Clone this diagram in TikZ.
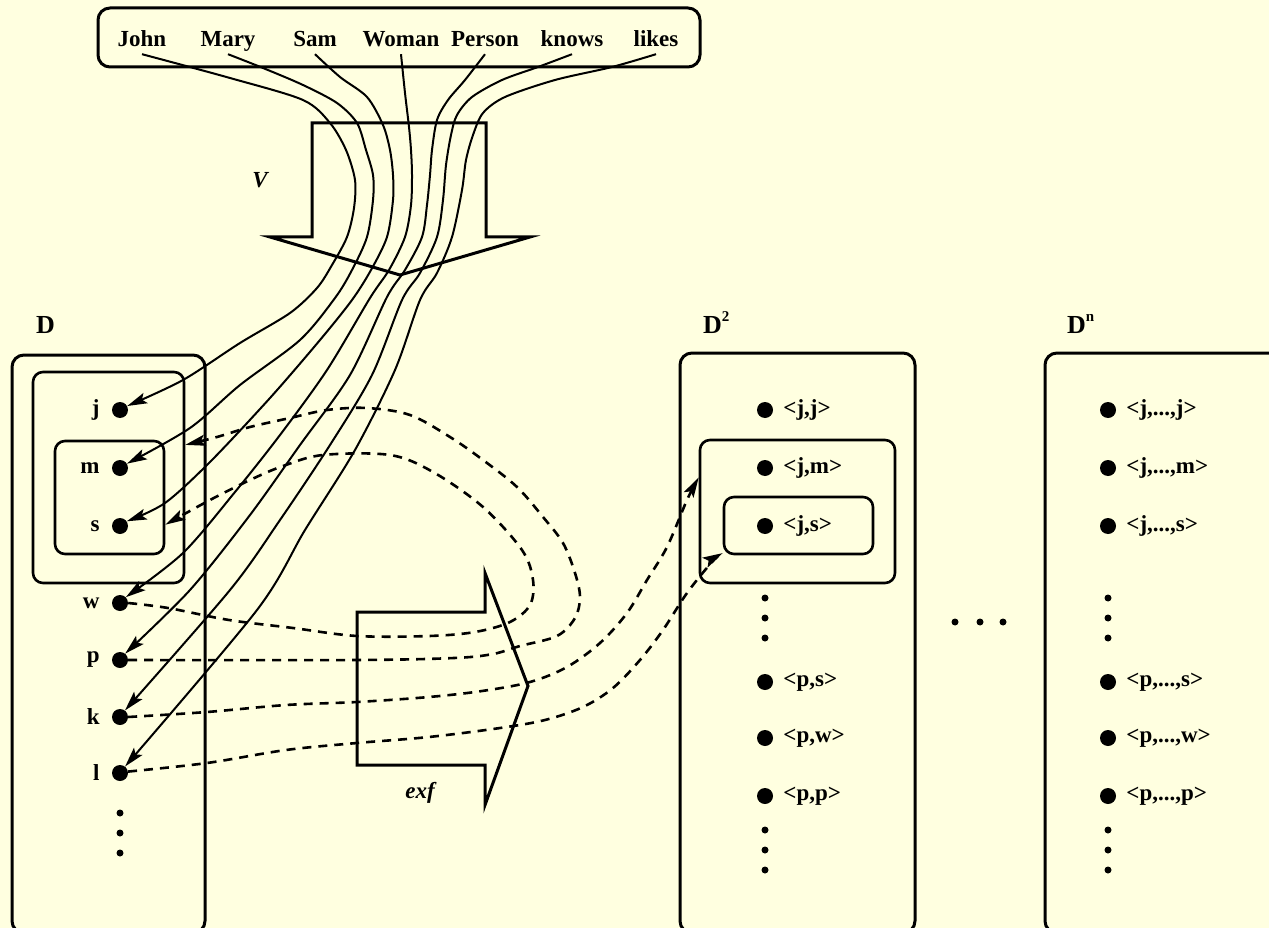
\documentclass[tikz,border=0pt]{standalone}
\usepackage{fontspec}
\setmainfont{Liberation Serif}
\usetikzlibrary{positioning,arrows.meta}

\definecolor{paper}{HTML}{FFFFE0}
\newcommand{\figfont}{\fontsize{23}{26}\selectfont\bfseries}
\newcommand{\domfont}{\fontsize{26}{28}\selectfont\bfseries}
\newcommand{\supfig}[1]{\raisebox{12pt}{\fontsize{15}{15}\selectfont #1}}

\begin{document}
\begin{tikzpicture}[
  x=1pt, y=-1pt,
  word/.style={font=\figfont, inner sep=0pt, text height=16pt, text depth=7pt, anchor=base},
  frame/.style={draw, line width=3pt, rounded corners=12pt, inner sep=0pt},
  subset/.style={draw, line width=2.6pt, rounded corners=10pt, inner sep=0pt},
  elem/.style={circle, fill, inner sep=0pt, minimum size=16pt},
  tiny/.style={circle, fill, inner sep=0pt, minimum size=7pt},
  lbl/.style={font=\figfont, inner sep=1pt},
  title/.style={font=\domfont, inner sep=0pt, anchor=base west},
  bigarrow/.style={line width=3pt, line join=miter},
  val/.style={line width=2pt, -{Stealth[length=20pt,width=11pt,inset=4pt]}},
  ext/.style={line width=2.6pt, dash pattern=on 9pt off 7pt, -{Stealth[length=20pt,width=11pt,inset=4pt]}},
]
\useasboundingbox (0,0) rectangle (1269,928);
\fill[paper] (0,0) rectangle (1269,928);
\clip (0,0) rectangle (1269,928);

% vocabulary
\node[frame, minimum width=602pt, minimum height=59pt] (vocab) at (399,37.5) {};
\node[word] (john) at (142,47) {John};
\node[word] (mary) at (228,47) {Mary};
\node[word] (sam) at (315,47) {Sam};
\node[word] (woman) at (401,47) {Woman};
\node[word] (person) at (485,47) {Person};
\node[word] (knows) at (572,47) {knows};
\node[word] (likes) at (656,47) {likes};

% the two big arrows
\draw[bigarrow] (312,123) -- (486,123) -- (486,237) -- (530,237) -- (400,275)
  -- (270,237) -- (312,237) -- cycle;
\node[font=\figfont\itshape] (vlabel) at (260,180) {V};
\draw[bigarrow] (357,612) -- (485,612) -- (485,573) -- (528,686) -- (485,805)
  -- (485,765) -- (357,765) -- cycle;
\node[font=\figfont\itshape] (exflabel) at (420,793) {exf};

% domain D
\node[title] (dlabel) at (36,333) {D};
\node[frame, minimum width=193pt, minimum height=578pt] (domD) at (108.5,644) {};
\node[subset, minimum width=151pt, minimum height=211pt] (setjms) at (108.5,477.5) {};
\node[subset, minimum width=109pt, minimum height=113pt] (setms) at (109.5,497.5) {};
\node[elem] (dj) at (120,410) {};
\node[elem] (dm) at (120,468) {};
\node[elem] (ds) at (120,526) {};
\node[elem] (dw) at (120,603) {};
\node[elem] (dp) at (120,660) {};
\node[elem] (dk) at (120,717) {};
\node[elem] (dl) at (120,773) {};
\node[lbl, left=11pt of dj] (lj) {j};
\node[lbl, left=11pt of dm] (lm) {m};
\node[lbl, left=11pt of ds] (ls) {s};
\node[lbl, left=11pt of dw] (lw) {w};
\node[lbl, left=11pt of dp] (lp) {p};
\node[lbl, left=11pt of dk] (lk) {k};
\node[lbl, left=11pt of dl] (ll) {l};
\foreach \y in {813,833,853}
  \node[tiny] (dv\y) at (120,\y) {};

% domain D^2
\node[title] (d2label) at (703,333) {D\supfig{2}};
\node[frame, minimum width=235pt, minimum height=580pt] (domDD) at (797.5,643) {};
\node[subset, minimum width=195pt, minimum height=143pt] (pairjm) at (797.5,511.5) {};
\node[subset, minimum width=149pt, minimum height=57pt] (pairjs) at (798.5,525.5) {};
\node[elem] (djj) at (765,410) {};
\node[elem] (djm) at (765,468) {};
\node[elem] (djs) at (765,526) {};
\node[elem] (dps) at (765,682) {};
\node[elem] (dpw) at (765,738) {};
\node[elem] (dpp) at (765,796) {};
\node[lbl, right=9pt of djj] {<j,j>};
\node[lbl, right=9pt of djm] {<j,m>};
\node[lbl, right=9pt of djs] {<j,s>};
\node[lbl, right=9pt of dps] {<p,s>};
\node[lbl, right=9pt of dpw] {<p,w>};
\node[lbl, right=9pt of dpp] {<p,p>};
\foreach \y in {598,618,638,830,850,870}
  \node[tiny] (ddv\y) at (765,\y) {};

% gap between D^2 and D^n
\foreach \x in {955,980,1003}
  \node[tiny] (gap\x) at (\x,622) {};

% domain D^n
\node[title] (dnlabel) at (1067,333) {D\supfig{n}};
\node[frame, minimum width=255pt, minimum height=580pt] (domDn) at (1172.5,643) {};
\node[elem] (njj) at (1108,410) {};
\node[elem] (njm) at (1108,468) {};
\node[elem] (njs) at (1108,526) {};
\node[elem] (nps) at (1108,682) {};
\node[elem] (npw) at (1108,738) {};
\node[elem] (npp) at (1108,796) {};
\node[lbl, right=9pt of njj] {<j,...,j>};
\node[lbl, right=9pt of njm] {<j,...,m>};
\node[lbl, right=9pt of njs] {<j,...,s>};
\node[lbl, right=9pt of nps] {<p,...,s>};
\node[lbl, right=9pt of npw] {<p,...,w>};
\node[lbl, right=9pt of npp] {<p,...,p>};
\foreach \y in {598,618,638,830,850,870}
  \node[tiny] (nv\y) at (1108,\y) {};

% valuation V: words to individuals
\draw[val] plot[smooth, tension=0.5] coordinates {(john.south) (230,78) (303,100) (330,123)
  (346,150) (355,180) (354,208) (347,237) (332,265) (317,288) (290,313) (240,343) (183,380) (dj.29)};
\draw[val] plot[smooth, tension=0.5] coordinates {(mary.south) (263,68) (303,85) (337,103)
  (357,123) (366,150) (373,175) (373,200) (367,237) (352,270) (335,298) (300,340) (240,385)
  (190,428) (dm.32)};
\draw[val] plot[smooth, tension=0.5] coordinates {(sam.south) (340,77) (367,97) (383,125)
  (390,150) (393,175) (393,200) (387,237) (371,270) (352,300) (320,340) (270,398) (210,462)
  (165,503) (ds.35)};
\draw[val] plot[smooth, tension=0.5] coordinates {(woman.south) (405,93) (409,127) (411,150)
  (412,175) (411,205) (405,237) (389,270) (370,298) (327,370) (280,435) (235,492) (183,553)
  (dw.45)};
\draw[val] plot[smooth, tension=0.5] coordinates {(person.south) (465,80) (448,100) (437,120)
  (432,150) (430,175) (427,205) (422,237) (405,270) (387,297) (350,375) (300,445) (250,515)
  (190,590) (dp.51)};
\draw[val] plot[smooth, tension=0.5] coordinates {(knows.south) (538,67) (502,80) (472,97)
  (457,115) (451,135) (446,165) (443,200) (437,237) (420,273) (402,300) (372,375) (330,445)
  (280,520) (230,590) (dk.53)};
\draw[val] plot[smooth, tension=0.5] coordinates {(likes.south) (612,67) (555,80) (505,97)
  (483,113) (473,135) (466,160) (462,190) (452,237) (437,273) (420,300) (395,370) (355,450)
  (305,530) (257,610) (dl.52)};

% extension exf: individuals to sets
\draw[ext] plot[smooth, tension=0.55] coordinates {(dw.east) (168,608) (229,620) (293,628)
  (357,636) (429,636) (475,632) (510,622) (530,605) (533,580) (522,550) (483,507) (433,472)
  (390,455) (323,455) (283,466) (250,480) (210,500) (setms.-26)};
\draw[ext] plot[smooth, tension=0.55] coordinates {(dp.east) (357,660) (454,658) (493,654)
  (520,646) (557,636) (575,618) (580,597) (575,573) (563,543) (543,517) (517,487) (483,460)
  (450,437) (410,415) (367,408) (327,410) (290,418) (250,427) (217,437) (setjms.23)};
\draw[ext] plot[smooth, tension=0.55] coordinates {(dk.east) (207,712) (286,705) (357,702)
  (429,697) (482,691) (530,682) (567,667) (600,643) (627,613) (647,580) (667,547) (687,500)
  (pairjm.161)};
\draw[ext] plot[smooth, tension=0.55] coordinates {(dl.10) (207,763) (286,750) (357,743)
  (429,737) (500,728) (545,720) (583,707) (613,688) (640,660) (663,630) (687,593) (712,562)
  (pairjs.200)};
\end{tikzpicture}
\end{document}
